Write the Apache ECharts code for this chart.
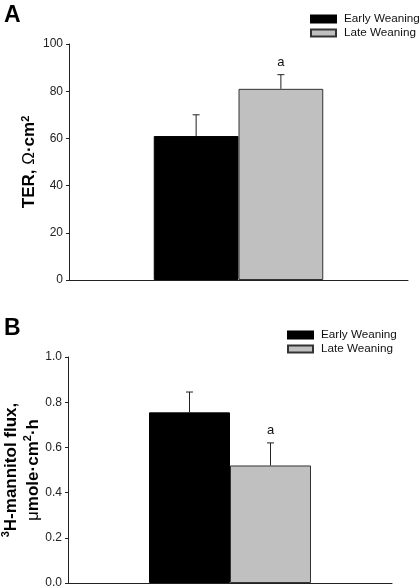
<!DOCTYPE html>
<html>
<head>
<meta charset="utf-8">
<script src="https://cdn.jsdelivr.net/npm/echarts@6/dist/echarts.min.js"></script>
<style>
html,body{margin:0;padding:0;background:#fff;}
#c{width:420px;height:586px;}
</style>
</head>
<body>
<div id="c"></div>
<script>
const categories = [''];
const seriesNames = ['Early Weaning', 'Late Weaning'];
// Panel A: TER
const terValues = [61, 81];
const terErrors = [9, 6];
const terSig = ['', 'a'];
const terTicks = [0, 20, 40, 60, 80, 100];
// Panel B: 3H-mannitol flux
const fluxValues = [0.755, 0.52];
const fluxErrors = [0.09, 0.10];
const fluxSig = ['', 'a'];
const fluxTicks = [0.0, 0.2, 0.4, 0.6, 0.8, 1.0];

const FONT = 'Liberation Sans, Arial, sans-serif';
const colors = ['#000000', '#c0c0c0'];

const chart = echarts.init(document.getElementById('c'), null, {renderer: 'canvas'});

function errSeries(gridIdx, values, errors, sig) {
  const data = values.map((v, i) => [0, v, errors[i], i, sig[i]]);
  return {
    type: 'custom',
    xAxisIndex: gridIdx, yAxisIndex: gridIdx,
    z: 5,
    silent: true,
    data: data,
    renderItem: function (params, api) {
      const v = api.value(1), e = api.value(2), idx = api.value(3);
      const s = data[params.dataIndex][4];
      const base = api.coord([api.value(0), v]);
      const top = api.coord([api.value(0), v + e]);
      const band = api.size([1, 0])[0];
      const x = base[0] + (idx === 0 ? -band / 8 : band / 8);
      const cap = 3.5;
      const children = [
        {type: 'line', shape: {x1: x, y1: base[1], x2: x, y2: top[1]}, style: {stroke: '#222', lineWidth: 1}},
        {type: 'line', shape: {x1: x - cap, y1: top[1], x2: x + cap, y2: top[1]}, style: {stroke: '#222', lineWidth: 1}}
      ];
      if (s) {
        children.push({type: 'text', x: x, y: top[1] - 12, style: {text: s, fill: '#111', font: '13px ' + FONT, align: 'center', verticalAlign: 'middle'}});
      }
      return {type: 'group', children: children};
    }
  };
}

function barSeries(gridIdx, values) {
  return values.map((v, i) => ({
    name: seriesNames[i],
    type: 'bar',
    xAxisIndex: gridIdx, yAxisIndex: gridIdx,
    data: [v],
    barGap: '0%',
    barCategoryGap: '50%',
    itemStyle: {color: colors[i], borderColor: i === 0 ? '#000' : '#333', borderWidth: 1},
    emphasis: {disabled: true}
  }));
}

const supRich = {
  n: {fontSize: 17, fontWeight: 'bold', fontFamily: FONT, color: '#000'},
  sym: {fontSize: 17, fontWeight: 'normal', fontFamily: FONT, color: '#000'},
  sup: {fontSize: 11, fontWeight: 'bold', fontFamily: FONT, color: '#000', verticalAlign: 'top', padding: [0, 0, 8, 0]}
};

const yCommon = {
  type: 'value',
  nameLocation: 'middle',
  nameRotate: 90,
  nameMoveOverlap: false,
  splitLine: {show: false},
  axisLine: {show: true, lineStyle: {color: '#222', width: 1}},
  axisTick: {show: true, length: 3, lineStyle: {color: '#222'}},
  axisLabel: {color: '#222', fontSize: 12, fontFamily: FONT, margin: 6}
};

const legendCommon = {
  orient: 'vertical', itemWidth: 25, itemHeight: 7, itemGap: 0, icon: 'rect', padding: 0,
  data: seriesNames, selectedMode: false,
  textStyle: {fontSize: 11.7, fontFamily: FONT, color: '#111', lineHeight: 14, padding: [0, 0, 0, 3]}
};

const option = {
  animation: false,
  backgroundColor: '#fff',
  title: [
    {text: 'A', left: -1, top: -1, textStyle: {fontSize: 23, fontWeight: 'bold', fontFamily: FONT, color: '#000'}},
    {text: 'B', left: -1, top: 312, textStyle: {fontSize: 23, fontWeight: 'bold', fontFamily: FONT, color: '#000'}}
  ],
  legend: [
    Object.assign({}, legendCommon, {left: 310, top: 12}),
    Object.assign({}, legendCommon, {left: 287, top: 328})
  ],
  grid: [
    {left: 69, right: 12, top: 44, bottom: 306, containLabel: false, outerBoundsMode: 'none'},
    {left: 68, right: 28, top: 357, bottom: 3, containLabel: false, outerBoundsMode: 'none'}
  ],
  xAxis: [0, 1].map(g => ({
    type: 'category', gridIndex: g, data: categories,
    axisLine: {show: true, lineStyle: {color: '#222', width: 1}},
    axisTick: {show: false}, axisLabel: {show: false}
  })),
  yAxis: [
    Object.assign({}, yCommon, {
      gridIndex: 0, min: 0, max: 100, interval: 20,
      name: '{n|TER, }{sym|Ω}{n|·cm}{sup|2}', nameGap: 30,
      nameTextStyle: {rich: supRich}
    }),
    Object.assign({}, yCommon, {
      gridIndex: 1, min: 0, max: 1, interval: 0.2,
      axisLabel: Object.assign({}, yCommon.axisLabel, {formatter: v => v.toFixed(1)}),
      name: '{sup|3}{n|H-mannitol flux,}\n{sym|μ}{n|mole·cm}{sup|2}{n|·h}', nameGap: 24,
      nameTextStyle: {rich: supRich, lineHeight: 22}
    })
  ],
  series: [].concat(
    barSeries(0, terValues),
    [errSeries(0, terValues, terErrors, terSig)],
    barSeries(1, fluxValues),
    [errSeries(1, fluxValues, fluxErrors, fluxSig)]
  )
};
chart.setOption(option);
</script>
</body>
</html>
